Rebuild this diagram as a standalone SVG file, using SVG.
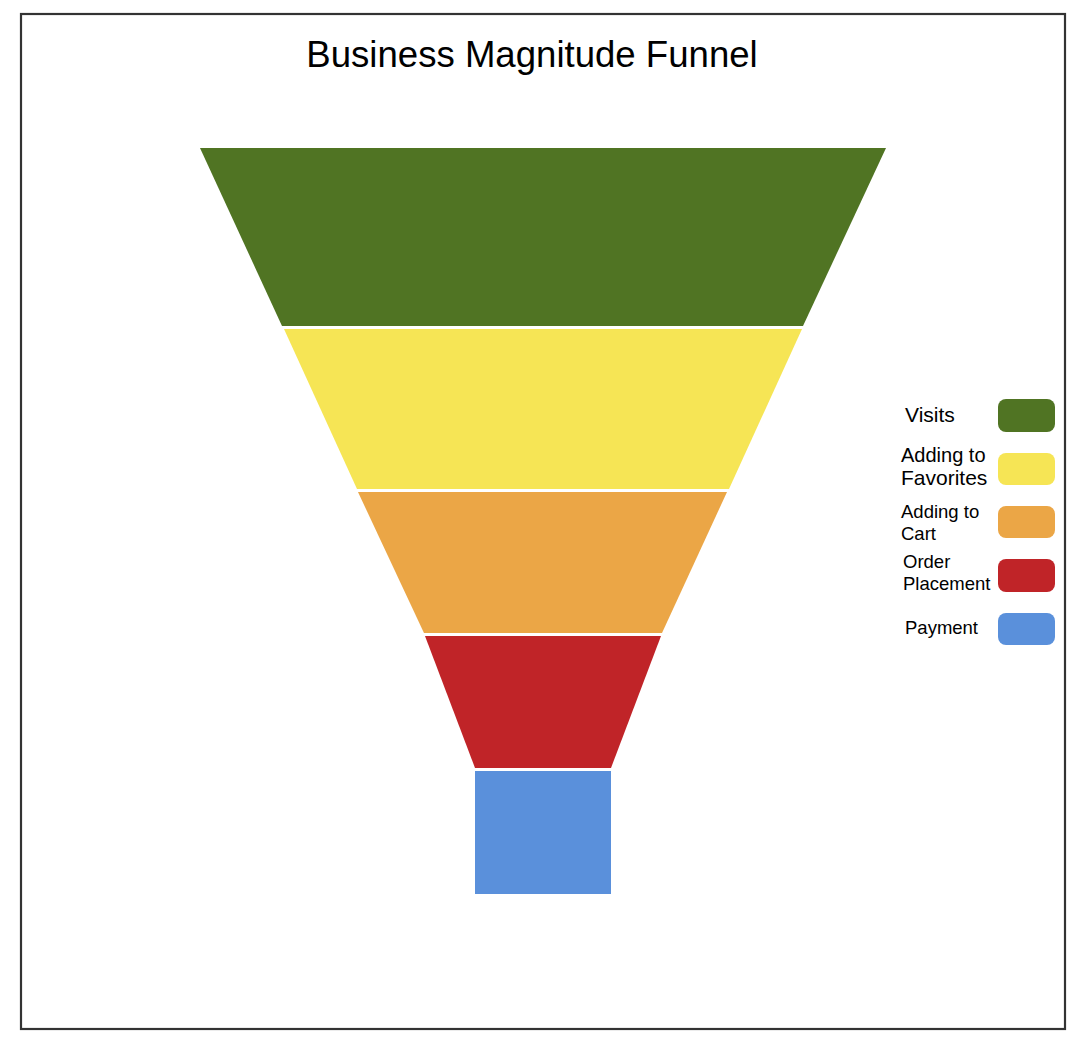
<svg xmlns="http://www.w3.org/2000/svg" width="1080" height="1042" viewBox="0 0 1080 1042">
<style>
text{font-family:"Liberation Sans",Arial,sans-serif;fill:#000}
.lg{font-size:18.5px}
.lg2{font-size:21px}
</style>
<rect width="1080" height="1042" fill="#fff"/>
<rect x="21" y="14" width="1044" height="1015" fill="#fff" stroke="#333" stroke-width="2.2"/>
<text x="532" y="67" font-size="36.6" text-anchor="middle">Business Magnitude Funnel</text>
<g id="funnel">
<g id="visits"><polygon points="200,148 886,148 803,326 282,326" fill="#507423"/></g>
<g id="favorites"><polygon points="284,329 802,329 729,489 357,489" fill="#F6E555"/></g>
<g id="cart"><polygon points="358,492 727,492 662,633 424,633" fill="#EBA646"/></g>
<g id="order"><polygon points="425,636 661,636 611,768 475,768" fill="#C02428"/></g>
<g id="payment"><rect x="475" y="771" width="136" height="123" fill="#5A90DB"/></g>
</g>
<g id="connectors"></g>
<g id="legend">
<g id="lg-visits"><text class="lg2" x="905" y="422">Visits</text><rect x="998" y="399" width="57" height="33" rx="8" fill="#507423"/></g>
<g id="lg-favorites"><text class="lg2" x="901" y="462" style="font-size:20px">Adding to</text><text class="lg2" x="901" y="485">Favorites</text><rect x="998" y="453" width="57" height="32" rx="8" fill="#F6E555"/></g>
<g id="lg-cart"><text class="lg" x="901" y="518">Adding to</text><text class="lg" x="901" y="540">Cart</text><rect x="998" y="506" width="57" height="32" rx="8" fill="#EBA646"/></g>
<g id="lg-order"><text class="lg" x="903" y="568">Order</text><text class="lg" x="903" y="590">Placement</text><rect x="998" y="559" width="57" height="33" rx="8" fill="#C02428"/></g>
<g id="lg-payment"><text class="lg" x="905" y="634">Payment</text><rect x="998" y="613" width="57" height="32" rx="8" fill="#5A90DB"/></g>
</g>
</svg>
